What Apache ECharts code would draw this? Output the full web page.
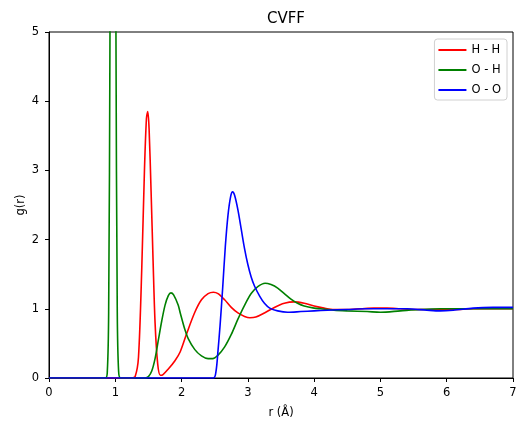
<!DOCTYPE html>
<html>
<head>
<meta charset="utf-8">
<script src="https://cdn.jsdelivr.net/npm/echarts@6/dist/echarts.min.js"></script>
<style>html,body{margin:0;padding:0;background:#fff}#c{width:522px;height:427px}</style>
</head>
<body>
<div id="c"></div>
<script>
var titleText = 'CVFF';
var xName = 'r (Å)';
var yName = 'g(r)';
var seriesNames = ['H - H', 'O - H', 'O - O'];

var hhR = [0, 1.25, 1.30, 1.35, 1.40, 1.44, 1.47, 1.49, 1.51, 1.54, 1.57, 1.60, 1.64, 1.68, 1.72, 1.80, 1.90, 1.98, 2.08, 2.2, 2.3, 2.4, 2.48, 2.55, 2.65, 2.75, 2.85, 2.95, 3.03, 3.12, 3.25, 3.4, 3.55, 3.7, 3.85, 4.0, 4.15, 4.3, 4.5, 4.7, 4.9, 5.1, 5.3, 5.5, 5.8, 6.1, 6.4, 7.0];
var hhG = [0, 0, 0.02, 0.3, 1.6, 3.0, 3.75, 3.85, 3.6, 2.7, 1.7, 0.8, 0.2, 0.04, 0.05, 0.13, 0.25, 0.38, 0.65, 0.95, 1.13, 1.22, 1.24, 1.22, 1.13, 1.02, 0.94, 0.89, 0.87, 0.88, 0.94, 1.02, 1.08, 1.10, 1.08, 1.04, 1.01, 0.99, 0.99, 1.00, 1.01, 1.01, 1.00, 0.99, 0.99, 0.99, 1.00, 1.00];

var ohR = [0, 0.85, 0.88, 0.90, 0.92, 0.94, 0.965, 0.99, 1.01, 1.03, 1.05, 1.08, 1.45, 1.50, 1.55, 1.60, 1.65, 1.70, 1.75, 1.80, 1.84, 1.88, 1.95, 1.98, 2.05, 2.1, 2.2, 2.3, 2.4, 2.47, 2.55, 2.65, 2.75, 2.85, 2.95, 3.05, 3.15, 3.26, 3.35, 3.45, 3.55, 3.65, 3.75, 3.85, 4.0, 4.1, 4.3, 4.5, 4.8, 5.0, 5.3, 5.6, 5.9, 6.2, 6.6, 7.0];
var ohG = [0, 0, 0.1, 0.95, 5.0, 14.4, 23, 14.4, 5.0, 0.95, 0.1, 0, 0, 0.02, 0.1, 0.28, 0.55, 0.82, 1.05, 1.19, 1.23, 1.20, 1.05, 0.94, 0.70, 0.57, 0.41, 0.32, 0.28, 0.28, 0.33, 0.45, 0.63, 0.85, 1.05, 1.22, 1.32, 1.37, 1.35, 1.30, 1.22, 1.14, 1.08, 1.04, 1.01, 1.00, 0.98, 0.97, 0.96, 0.95, 0.97, 0.99, 1.00, 1.00, 1.00, 1.00];

var ooR = [0, 2.48, 2.52, 2.55, 2.58, 2.62, 2.66, 2.70, 2.74, 2.77, 2.80, 2.85, 2.90, 2.95, 3.00, 3.05, 3.10, 3.18, 3.25, 3.33, 3.45, 3.6, 3.8, 4.0, 4.2, 4.5, 4.8, 5.1, 5.4, 5.7, 5.9, 6.1, 6.4, 6.7, 7.0];
var ooG = [0, 0, 0.1, 0.4, 0.75, 1.3, 1.9, 2.35, 2.62, 2.69, 2.64, 2.43, 2.15, 1.87, 1.64, 1.46, 1.33, 1.18, 1.08, 1.01, 0.97, 0.95, 0.96, 0.97, 0.98, 0.99, 1.0, 1.0, 1.0, 0.98, 0.97, 0.98, 1.01, 1.02, 1.02];

var colors = ['#ff0000', '#008000', '#0000ff'];

function pairs(r, g) { return r.map(function (v, i) { return [v, g[i]]; }); }

var chart = echarts.init(document.getElementById('c'), null, {renderer: 'canvas'});
var font = 'DejaVu Sans';
chart.setOption({
  animation: false,
  backgroundColor: '#ffffff',
  title: {text: titleText, left: 281, top: 7, textAlign: 'center',
    textStyle: {fontFamily: font, fontSize: 15, fontWeight: 'normal', color: '#000'}},
  grid: {left: 49, right: 9, top: 32, bottom: 49, show: true, borderColor: '#000', borderWidth: 1, backgroundColor: 'transparent'},
  legend: {
    orient: 'vertical', right: 15, top: 39,
    data: seriesNames,
    icon: 'rect', itemWidth: 28, itemHeight: 2, itemGap: 6,
    padding: [4, 6, 3, 4],
    borderColor: '#d0d0d0', borderWidth: 1, borderRadius: 3, backgroundColor: '#fff',
    textStyle: {fontFamily: font, fontSize: 11.5, color: '#000', lineHeight: 14}
  },
  xAxis: {
    type: 'value', min: 0, max: 7, interval: 1,
    name: xName, nameLocation: 'middle', nameGap: 29, nameMoveOverlap: false,
    nameTextStyle: {fontFamily: font, fontSize: 11.5, color: '#000'},
    axisLine: {show: true, onZero: false, lineStyle: {color: '#000', width: 1}},
    axisTick: {show: true, inside: false, length: 4, lineStyle: {color: '#000'}},
    axisLabel: {fontFamily: font, fontSize: 11.5, color: '#000', margin: 9},
    splitLine: {show: false}
  },
  yAxis: {
    type: 'value', min: 0, max: 5, interval: 1,
    name: yName, nameLocation: 'middle', nameGap: 22, nameMoveOverlap: false,
    nameTextStyle: {fontFamily: font, fontSize: 11.5, color: '#000'},
    axisLine: {show: true, onZero: false, lineStyle: {color: '#000', width: 1}},
    axisTick: {show: true, inside: false, length: 4, lineStyle: {color: '#000'}},
    axisLabel: {fontFamily: font, fontSize: 11.5, color: '#000', margin: 10},
    splitLine: {show: false}
  },
  series: [
    {name: seriesNames[0], type: 'line', data: pairs(hhR, hhG), smooth: 0.3, showSymbol: false, symbol: 'none', clip: true,
      lineStyle: {color: colors[0], width: 1.6}, itemStyle: {color: colors[0]}},
    {name: seriesNames[1], type: 'line', data: pairs(ohR, ohG), smooth: 0.3, showSymbol: false, symbol: 'none', clip: true,
      lineStyle: {color: colors[1], width: 1.6}, itemStyle: {color: colors[1]}},
    {name: seriesNames[2], type: 'line', data: pairs(ooR, ooG), smooth: 0.3, showSymbol: false, symbol: 'none', clip: true,
      lineStyle: {color: colors[2], width: 1.6}, itemStyle: {color: colors[2]}}
  ]
});
</script>
</body>
</html>
